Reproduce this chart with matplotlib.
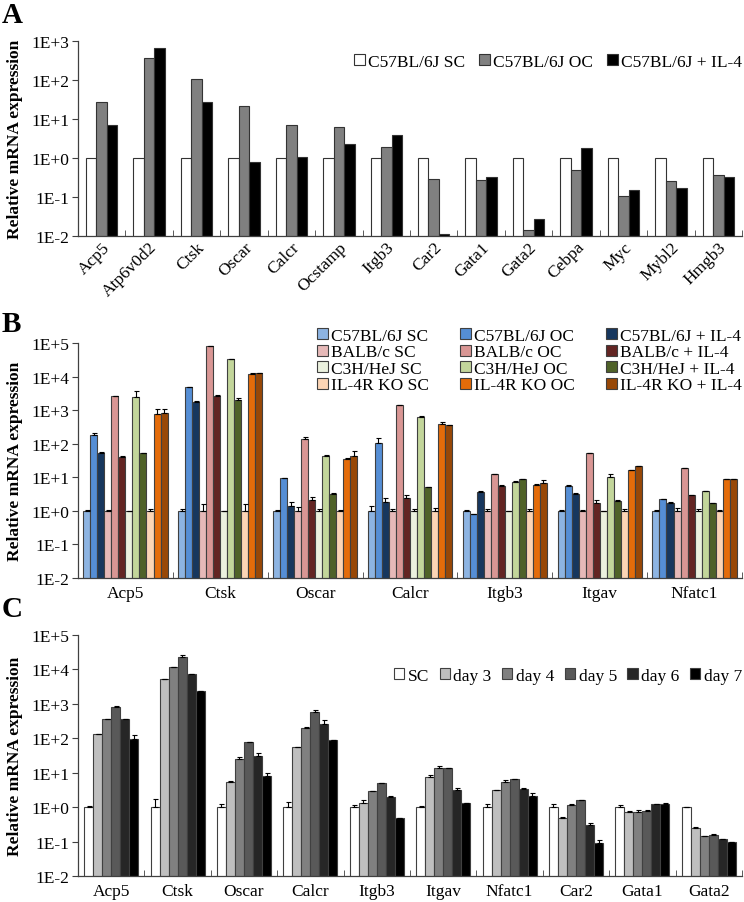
import numpy as np
import matplotlib
matplotlib.use('Agg')
import matplotlib.pyplot as plt
from matplotlib.ticker import FixedLocator, FuncFormatter, NullLocator

plt.rcParams['font.family'] = ['Liberation Serif', 'DejaVu Serif']
plt.rcParams['font.size'] = 12.5

# ---------------- Panel A data ----------------
a_genes = ['Acp5', 'Atp6v0d2', 'Ctsk', 'Oscar', 'Calcr', 'Ocstamp', 'Itgb3',
           'Car2', 'Gata1', 'Gata2', 'Cebpa', 'Myc', 'Mybl2', 'Hmgb3']
a_sc = [1, 1, 1, 1, 1, 1, 1, 1, 1, 1, 1, 1, 1, 1]
a_oc = [28, 370, 105, 21, 7.1, 6.2, 1.95, 0.29, 0.28, 0.014, 0.49, 0.105, 0.26, 0.37]
a_il4 = [7.1, 680, 28, 0.78, 1.05, 2.3, 3.9, 0.0115, 0.33, 0.027, 1.78, 0.15, 0.17, 0.33]
a_labels = ['C57BL/6J SC', 'C57BL/6J OC', 'C57BL/6J + IL-4']

# ---------------- Panel B data ----------------
b_genes = ['Acp5', 'Ctsk', 'Oscar', 'Calcr', 'Itgb3', 'Itgav', 'Nfatc1']
c57_sc = [1, 1, 1, 1, 1, 1, 1]
c57_sc_err = [0.05, 0.1, 0.03, 0.4, 0.03, 0.03, 0.03]
c57_oc = [178, 4900, 9.3, 105, 0.78, 5.5, 2.2]
c57_oc_err = [31, 150, 0.3, 43, 0.02, 0.2, 0.05]
c57_il4 = [52, 1780, 1.38, 1.82, 3.7, 3.2, 1.74]
c57_il4_err = [5, 50, 0.44, 0.63, 0.2, 0.1, 0.05]
balb_sc = [1, 1, 1, 1, 1, 1, 1]
balb_sc_err = [0.03, 0.65, 0.26, 0.12, 0.15, 0.05, 0.2]
balb_oc = [2570, 81000, 138, 1380, 12.6, 52, 18.6]
balb_oc_err = [100, 2000, 20, 60, 0.3, 1.5, 0.5]
balb_il4 = [40, 2570, 2.14, 2.45, 5.6, 1.66, 2.95]
balb_il4_err = [2, 200, 0.5, 0.5, 0.1, 0.43, 0.05]
c3h_sc = [1, 1, 1, 1, 1, 1, 1]
c3h_sc_err = [0.02, 0.02, 0.15, 0.15, 0.02, 0.02, 0.15]
c3h_oc = [2500, 34000, 43.6, 645, 7.4, 10, 3.8]
c3h_oc_err = [1200, 500, 1, 15, 0.3, 2.3, 0.1]
c3h_il4 = [52, 2040, 3.24, 5.2, 8.7, 2.0, 1.66]
c3h_il4_err = [1, 200, 0.1, 0.1, 0.2, 0.05, 0.05]
ko_sc = [1, 1, 1, 1, 1, 1, 1]
ko_sc_err = [0.1, 0.6, 0.03, 0.22, 0.15, 0.15, 0.03]
ko_oc = [790, 12300, 36, 390, 6.0, 16.6, 8.7]
ko_oc_err = [280, 300, 1, 48, 0.15, 0.3, 0.2]
ko_il4 = [830, 12600, 43.6, 355, 6.9, 21.9, 8.7]
ko_il4_err = [265, 200, 19, 10, 1.4, 0.4, 0.2]
b_labels = ['C57BL/6J SC', 'C57BL/6J OC', 'C57BL/6J + IL-4',
            'BALB/c SC', 'BALB/c OC', 'BALB/c + IL-4',
            'C3H/HeJ SC', 'C3H/HeJ OC', 'C3H/HeJ + IL-4',
            'IL-4R KO SC', 'IL-4R KO OC', 'IL-4R KO + IL-4']
b_colors = ['#8DB4E2', '#558ED5', '#17375E',
            '#E6B9B8', '#D99694', '#632523',
            '#EBF1DE', '#C3D69B', '#4F6228',
            '#FCD5B5', '#E46C0A', '#984807']

# ---------------- Panel C data ----------------
c_genes = ['Acp5', 'Ctsk', 'Oscar', 'Calcr', 'Itgb3', 'Itgav', 'Nfatc1', 'Car2', 'Gata1', 'Gata2']
sc = [1, 1, 1, 1, 1, 1, 1, 1, 1, 1]
sc_err = [0.05, 0.74, 0.2, 0.38, 0.15, 0.07, 0.23, 0.23, 0.12, 0]
day3 = [130, 5200, 5.4, 55, 1.3, 7.6, 3.1, 0.5, 0.72, 0.25]
day3_err = [5, 0, 0.5, 1, 0.26, 1.1, 0.05, 0.02, 0.07, 0.02]
day4 = [355, 12000, 25.7, 205, 2.9, 13.3, 5.4, 1.17, 0.72, 0.145]
day4_err = [20, 0, 2.5, 8, 0.05, 2.2, 0.6, 0.08, 0.1, 0.005]
day5 = [835, 23000, 79, 590, 4.9, 13.3, 6.6, 1.58, 0.77, 0.155]
day5_err = [20, 2500, 1, 88, 0.1, 0.1, 0.1, 0.02, 0.07, 0.013]
day6 = [355, 7400, 31.4, 263, 2.0, 3.1, 3.3, 0.31, 1.2, 0.117]
day6_err = [5, 0, 6, 68, 0.05, 0.4, 0.3, 0.03, 0.02, 0.005]
day7 = [98, 2300, 8.2, 88, 0.49, 1.3, 2.1, 0.093, 1.23, 0.096]
day7_err = [25, 100, 1.9, 1, 0, 0, 0.48, 0.019, 0.08, 0.003]
c_labels = ['SC', 'day 3', 'day 4', 'day 5', 'day 6', 'day 7']
c_colors = ['white', '#BFBFBF', '#808080', '#595959', '#262626', '#000000']


def log_fmt(v, pos):
    e = int(round(np.log10(v)))
    return '1E+%d' % e if e >= 0 else '1E%d' % e


def style_axis(ax, ymin, ymax, ngenes, genes):
    ax.set_yscale('log')
    ax.set_ylim(10.0 ** ymin, 10.0 ** ymax)
    ax.yaxis.set_major_locator(FixedLocator([10.0 ** k for k in range(ymin, ymax + 1)]))
    ax.yaxis.set_major_formatter(FuncFormatter(log_fmt))
    ax.yaxis.set_minor_locator(NullLocator())
    ax.set_xlim(-0.5, ngenes - 0.5)
    ax.set_xticks(np.arange(ngenes))
    ax.set_xticklabels(genes)
    ax.set_xticks(np.arange(ngenes + 1) - 0.5, minor=True)
    ax.tick_params(axis='x', which='major', length=0, pad=5)
    ax.tick_params(axis='x', which='minor', direction='in', length=4, color='#404040')
    ax.tick_params(axis='y', direction='out', length=4, color='#404040', pad=2)
    for s in ['top', 'right']:
        ax.spines[s].set_visible(False)
    for s in ['left', 'bottom']:
        ax.spines[s].set_color('#404040')
        ax.spines[s].set_linewidth(0.9)
    ax.set_ylabel('Relative mRNA expression', fontweight='bold')
    ax.yaxis.set_label_coords(-0.083, 0.5)


def draw_group(ax, series, errs, colors, width, ecols):
    n = len(series)
    x = np.arange(len(series[0]))
    handles = []
    for j in range(n):
        xs = x + (j - (n - 1) / 2) * width
        h = ax.bar(xs, series[j], width, color=colors[j], edgecolor=ecols[j], linewidth=0.8, zorder=2)
        handles.append(h)
        if errs is not None:
            e = np.array(errs[j], dtype=float)
            ax.errorbar(xs, series[j], yerr=[np.zeros_like(e), e], fmt='none', ecolor='black',
                        elinewidth=0.8, capsize=1.8, capthick=0.8, zorder=3)
    return handles


fig = plt.figure(figsize=(7.44, 9.03), dpi=100)
W, H = 744.0, 903.0


def axes_px(left, top, right, bottom):
    return fig.add_axes([left / W, 1 - bottom / H, (right - left) / W, (bottom - top) / H])


# ---- A ----
axA = axes_px(78, 42, 742, 237)
hA = draw_group(axA, [a_sc, a_oc, a_il4], None, ['white', '#808080', 'black'], 0.22,
                ['#333333', '#333333', '#333333'])
style_axis(axA, -2, 3, len(a_genes), a_genes)
for lab in axA.get_xticklabels():
    lab.set_rotation(45)
    lab.set_ha('right')
    lab.set_rotation_mode('anchor')
axA.tick_params(axis='x', which='major', pad=2)
axA.legend(hA, a_labels, ncol=3, frameon=False, loc='center right', bbox_to_anchor=(1.0, 0.892),
           handlelength=0.6, handleheight=0.6, handletextpad=0.2, columnspacing=0.8, borderaxespad=0,
           borderpad=0)

# ---- B ----
axB = axes_px(78, 344, 742, 579)
b_series = [c57_sc, c57_oc, c57_il4, balb_sc, balb_oc, balb_il4, c3h_sc, c3h_oc, c3h_il4, ko_sc, ko_oc, ko_il4]
b_errs = [c57_sc_err, c57_oc_err, c57_il4_err, balb_sc_err, balb_oc_err, balb_il4_err,
          c3h_sc_err, c3h_oc_err, c3h_il4_err, ko_sc_err, ko_oc_err, ko_il4_err]
hB = draw_group(axB, b_series, b_errs, b_colors, 0.074, ['#404040'] * 12)
style_axis(axB, -2, 5, len(b_genes), b_genes)
# legend order: columns are SC / OC / IL-4
orderB = [0, 3, 6, 9, 1, 4, 7, 10, 2, 5, 8, 11]
axB.legend([hB[i] for i in orderB], [b_labels[i] for i in orderB], ncol=3, frameon=False,
           loc='center right', bbox_to_anchor=(1.0, 0.925), handlelength=0.6, handleheight=0.6,
           handletextpad=0.2, columnspacing=1.8, labelspacing=0.03, borderaxespad=0, borderpad=0)

# ---- C ----
axC = axes_px(78, 636, 742, 877)
c_series = [sc, day3, day4, day5, day6, day7]
c_errs = [sc_err, day3_err, day4_err, day5_err, day6_err, day7_err]
hC = draw_group(axC, c_series, c_errs, c_colors, 0.136, ['#404040'] * 6)
style_axis(axC, -2, 5, len(c_genes), c_genes)
axC.legend(hC, c_labels, ncol=6, frameon=False, loc='center right', bbox_to_anchor=(1.0, 0.83),
           handlelength=0.6, handleheight=0.6, handletextpad=0.2, columnspacing=0.6, borderaxespad=0,
           borderpad=0)

# panel letters
for letter, y in [('A', 2), ('B', 311), ('C', 596)]:
    fig.text(2 / W, 1 - y / H, letter, fontsize=21, fontweight='bold', ha='left', va='top')

fig.savefig('out.png', dpi=100)
